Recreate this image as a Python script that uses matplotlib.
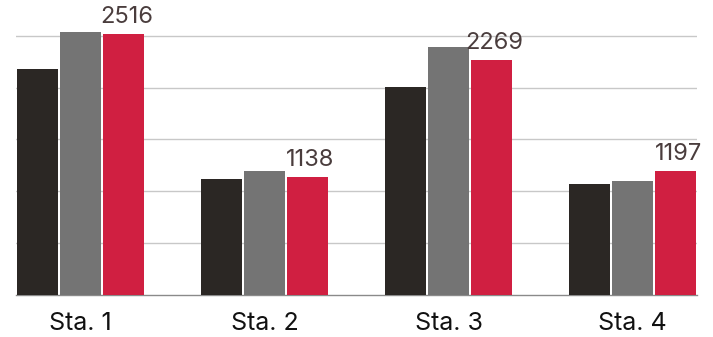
import matplotlib.pyplot as plt
import numpy as np

stations = ["Sta. 1", "Sta. 2", "Sta. 3", "Sta. 4"]
series_a = [2180, 1121, 2002, 1070]
series_b = [2538, 1195, 2391, 1096]
series_c = [2516, 1138, 2269, 1197]

colors = ["#2b2724", "#747474", "#d01f41"]

fig = plt.figure(figsize=(7.13, 3.37), dpi=100)
ax = fig.add_axes([16 / 713, 42 / 337, 681 / 713, 295 / 337])

x = np.arange(len(stations))
width = 41 / 184
step = 43 / 184

ax.bar(x - step, series_a, width, color=colors[0], zorder=3)
ax.bar(x, series_b, width, color=colors[1], zorder=3)
bars_c = ax.bar(x + step, series_c, width, color=colors[2], zorder=3)

for b, v in zip(bars_c, series_c):
    ax.annotate(str(v), (b.get_x() + b.get_width() / 2, b.get_height()),
                xytext=(2, 4), textcoords="offset points", ha="center", va="bottom",
                fontsize=17, color="#4a3d3d", family="Inter")

ax.set_xlim(-0.3505, 3.3505)
ax.set_ylim(0, 2844)
ax.set_yticks([500, 1000, 1500, 2000, 2500])
ax.yaxis.grid(True, color="#c8c8c8", linewidth=1, zorder=0)
ax.tick_params(axis="y", left=False, labelleft=False)
ax.set_xticks(x)
ax.set_xticklabels(stations, fontsize=18, family="Inter", color="#111111")
ax.tick_params(axis="x", length=0, pad=12)

for side in ["top", "right", "left"]:
    ax.spines[side].set_visible(False)
ax.spines["bottom"].set_color("#8a8a8a")
ax.spines["bottom"].set_linewidth(1)

fig.savefig("out.png", dpi=100)
